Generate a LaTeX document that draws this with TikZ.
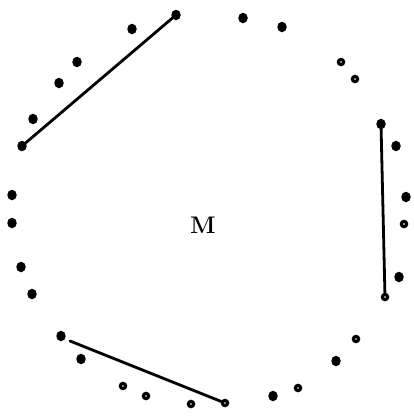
\documentclass[tikz,border=0pt]{standalone}
\usetikzlibrary{shapes.geometric}
\begin{document}
\begin{tikzpicture}[x=1pt,y=-1pt,
  full/.style={ellipse,fill=black,inner sep=0pt,minimum width=9.5pt,minimum height=10.5pt},
  hollow/.style={circle,draw=black,fill=white,line width=3.2pt,inner sep=0pt,minimum size=5.2pt},
  chord/.style={line width=2.8pt,line cap=round}]
\useasboundingbox (0,0) rectangle (413,418);
% filled and hollow points around the ring
\node[full]   (d1)  at (176,15) {};
\node[full]   (d2)  at (132,29) {};
\node[full]   (d3)  at (77,62) {};
\node[full]   (d4)  at (59,83) {};
\node[full]   (d5)  at (33,119) {};
\node[full]   (d6)  at (22,146) {};
\node[full]   (d7)  at (12,195) {};
\node[full]   (d8)  at (12,223) {};
\node[full]   (d9)  at (21,267) {};
\node[full]   (d10) at (32,294) {};
\node[full]   (d11) at (61,336) {};
\node[full]   (d12) at (81,359) {};
\node[hollow] (d13) at (123,386) {};
\node[hollow] (d14) at (146,396) {};
\node[hollow] (d15) at (191,404) {};
\node[hollow] (d16) at (225,403) {};
\node[full]   (d17) at (273,396) {};
\node[hollow] (d18) at (298,388) {};
\node[full]   (d19) at (336,361) {};
\node[hollow] (d20) at (356,339) {};
\node[hollow] (d21) at (385,297) {};
\node[full]   (d22) at (399,277) {};
\node[hollow] (d23) at (404,224) {};
\node[full]   (d24) at (406,197) {};
\node[full]   (d25) at (396,146) {};
\node[full]   (d26) at (381,124) {};
\node[hollow] (d27) at (355,79) {};
\node[hollow] (d28) at (341,62) {};
\node[full]   (d29) at (282,27) {};
\node[full]   (d30) at (243,18) {};
\coordinate (c1) at (70,341);
% chords
\draw[chord] (d1.center) -- (d6.center);
\draw[chord] (d26.center) -- (d21);
\draw[chord] (c1) -- (d16);
% label
\node (m) at (203,225) {\fontsize{24}{28}\selectfont\bfseries M};
\end{tikzpicture}
\end{document}
